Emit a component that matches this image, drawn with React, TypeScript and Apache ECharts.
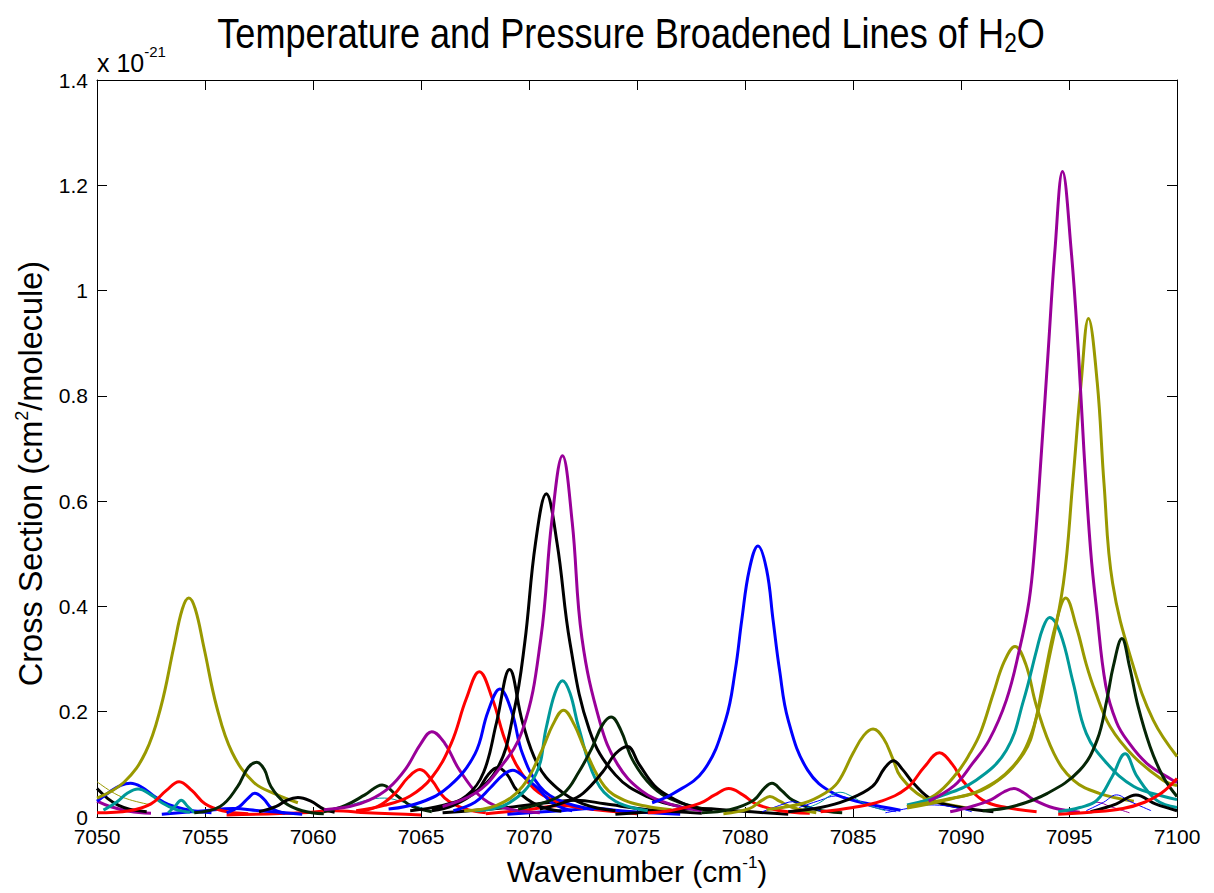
import { useEffect, useRef } from "react";
import * as echarts from "echarts";

// ---- axes ----
const X_MIN = 7050;
const X_MAX = 7100;
const X_STEP = 5;
const Y_MIN = 0;
const Y_MAX = 1.4;
const Y_STEP = 0.2;

const TITLE_TEXT = "{m|Temperature and Pressure Broadened Lines of H}{s|2}{m|O}";
const X_NAME = "{m|Wavenumber (cm}{s|-1}{m|)}";
const Y_NAME = "{m|Cross Section (cm}{s|2}{m|/molecule)}";
const EXPONENT = "{m|x 10}{s|-21}";

// ---- line profiles: [wavenumber, cross section (x1e-21)] ----
const purpleTail7050 = [[7050, 0.03], [7050.6, 0.02], [7051.5, 0.011], [7052.5, 0.007]];
const blackTail7050 = [[7050, 0.054], [7050.5, 0.035], [7051, 0.022], [7051.5, 0.015], [7052.3, 0.01]];
const oliveThin7050 = [[7050, 0.067], [7050.8, 0.045], [7051.5, 0.033], [7052.5, 0.023]];
const blue7051 = [[7050, 0.03], [7050.6, 0.048], [7051.1, 0.06], [7051.55, 0.064], [7052.1, 0.056], [7052.7, 0.038], [7053.3, 0.024], [7054.3, 0.013], [7055.3, 0.008]];
const teal7052 = [[7050.3, 0.013], [7050.9, 0.028], [7051.4, 0.045], [7051.9, 0.053], [7052.5, 0.042], [7053.0, 0.027], [7053.6, 0.015], [7054.3, 0.009]];
const teal7054 = [[7053.3, 0.008], [7053.6, 0.02], [7053.9, 0.032], [7054.2, 0.02], [7054.5, 0.008]];
const red7054 = [[7050, 0.008], [7051.5, 0.012], [7052.5, 0.025], [7053.2, 0.05], [7053.8, 0.067], [7054.4, 0.05], [7055, 0.025], [7055.8, 0.012], [7057, 0.006]];
const olive7054 = [[7050, 0.036], [7051.25, 0.066], [7052.25, 0.123], [7052.95, 0.208], [7053.55, 0.322], [7053.95, 0.395], [7054.25, 0.416], [7054.55, 0.395], [7054.95, 0.322], [7055.55, 0.208], [7056.25, 0.123], [7057.25, 0.066], [7058.3, 0.043], [7059.3, 0.027]];
const blueLow7056 = [[7053, 0.005], [7055, 0.012], [7056.3, 0.016], [7057.5, 0.012], [7059.5, 0.005]];
const dkg7057 = [[7054.5, 0.008], [7055.7, 0.02], [7056.5, 0.057], [7057.0, 0.094], [7057.4, 0.104], [7057.75, 0.09], [7058.05, 0.058], [7058.7, 0.027], [7059.5, 0.012], [7060.5, 0.006]];
const blue7057 = [[7056, 0.008], [7056.6, 0.02], [7057.0, 0.036], [7057.3, 0.045], [7057.7, 0.035], [7058.1, 0.016], [7058.7, 0.007]];
const black7059 = [[7057.5, 0.01], [7058.3, 0.02], [7058.8, 0.032], [7059.3, 0.037], [7059.9, 0.03], [7060.5, 0.015], [7061, 0.009]];
const redLow7061 = [[7056, 0.004], [7059.5, 0.008], [7061, 0.012], [7062.5, 0.008], [7065, 0.004]];
const tealThin7063 = [[7060.5, 0.012], [7061.5, 0.02], [7062.5, 0.032], [7063.3, 0.036], [7064.2, 0.028], [7065.2, 0.015]];
const dkg7063 = [[7060.5, 0.01], [7061.5, 0.022], [7062.4, 0.042], [7063.2, 0.061], [7063.9, 0.04], [7064.6, 0.02], [7065.5, 0.01]];
const purple7065 = [[7060.5, 0.014], [7061.7, 0.02], [7062.6, 0.032], [7063.5, 0.055], [7064.3, 0.092], [7065, 0.14], [7065.5, 0.162], [7066.1, 0.14], [7066.8, 0.088], [7067.9, 0.034], [7069, 0.016], [7070.5, 0.008]];
const red7065 = [[7062, 0.01], [7063, 0.02], [7063.8, 0.045], [7064.4, 0.075], [7064.95, 0.09], [7065.5, 0.07], [7066.1, 0.036], [7067, 0.016], [7068, 0.008]];
const red7067 = [[7062, 0.012], [7063.3, 0.022], [7064.5, 0.04], [7065.5, 0.075], [7066.4, 0.14], [7067.1, 0.225], [7067.7, 0.276], [7068.3, 0.225], [7069, 0.135], [7070, 0.064], [7071, 0.034], [7072.5, 0.016]];
const blue7068 = [[7063.5, 0.015], [7065, 0.028], [7066.3, 0.058], [7067.5, 0.12], [7068.1, 0.2], [7068.65, 0.243], [7069.2, 0.2], [7069.7, 0.12], [7070.5, 0.058], [7071.5, 0.03], [7073, 0.014]];
const black7069 = [[7064.5, 0.012], [7066, 0.022], [7067.1, 0.04], [7067.9, 0.085], [7068.5, 0.18], [7069.1, 0.28], [7069.7, 0.18], [7070.4, 0.1], [7071.3, 0.055], [7072.5, 0.025], [7074, 0.012]];
const black7068 = [[7065.5, 0.012], [7066.5, 0.022], [7067.6, 0.05], [7068.1, 0.08], [7068.55, 0.094], [7069.0, 0.08], [7069.45, 0.05], [7070.4, 0.022], [7071.5, 0.011]];
const blue7069 = [[7066.5, 0.012], [7067.5, 0.028], [7068.2, 0.055], [7068.8, 0.08], [7069.25, 0.089], [7069.8, 0.075], [7070.4, 0.055], [7071.1, 0.026], [7072, 0.012]];
const redLow7071 = [[7068, 0.006], [7070, 0.014], [7071.5, 0.022], [7073, 0.014], [7075, 0.006]];
const blackLow7072 = [[7066, 0.008], [7069, 0.018], [7071, 0.028], [7072.2, 0.032], [7073.5, 0.025], [7075.5, 0.014], [7078, 0.007]];
const blueLow7073 = [[7069, 0.005], [7071.5, 0.012], [7073, 0.016], [7074.5, 0.011], [7077, 0.005]];
const black7070 = [[7065.5, 0.016], [7067, 0.035], [7068.5, 0.09], [7069.3, 0.2], [7069.8, 0.33], [7070.3, 0.52], [7070.8, 0.614], [7071.3, 0.52], [7071.9, 0.33], [7072.8, 0.165], [7074, 0.08], [7075.5, 0.038], [7077, 0.02]];
const purple7071 = [[7066, 0.02], [7067.5, 0.045], [7068.5, 0.085], [7069.7, 0.165], [7070.55, 0.34], [7071.05, 0.56], [7071.55, 0.686], [7072.0, 0.56], [7072.45, 0.34], [7073.3, 0.178], [7074.1, 0.1], [7075.2, 0.05], [7076.5, 0.025], [7078, 0.012]];
const teal7071 = [[7067.5, 0.012], [7069, 0.025], [7070.3, 0.08], [7070.8, 0.17], [7071.2, 0.235], [7071.55, 0.259], [7071.9, 0.235], [7072.3, 0.17], [7073.1, 0.07], [7074, 0.03], [7075.5, 0.012]];
const olive7071 = [[7067, 0.012], [7068.5, 0.022], [7069.7, 0.058], [7070.6, 0.127], [7071.1, 0.175], [7071.6, 0.203], [7072.1, 0.175], [7072.6, 0.127], [7073.5, 0.058], [7074.4, 0.032], [7075.5, 0.02], [7076.6, 0.014]];
const dkg7073 = [[7069.5, 0.015], [7070.5, 0.025], [7071.6, 0.045], [7072.3, 0.085], [7072.9, 0.13], [7073.4, 0.175], [7073.8, 0.19], [7074.25, 0.165], [7074.8, 0.108], [7075.7, 0.058], [7076.7, 0.032], [7078, 0.016]];
const black7074 = [[7070.5, 0.015], [7071.8, 0.03], [7072.5, 0.045], [7073.4, 0.085], [7074.0, 0.12], [7074.55, 0.134], [7075.1, 0.1], [7075.8, 0.06], [7076.5, 0.039], [7077.5, 0.02], [7078.5, 0.012]];
const blackLow7078 = [[7074, 0.005], [7076.5, 0.012], [7078, 0.016], [7079.5, 0.012], [7082, 0.005]];
const red7079 = [[7075.5, 0.008], [7076.5, 0.012], [7077.9, 0.026], [7078.6, 0.042], [7079.25, 0.054], [7079.9, 0.042], [7080.5, 0.025], [7081.5, 0.013], [7083, 0.007]];
const blue7080 = [[7075.7, 0.027], [7076.7, 0.045], [7078.1, 0.089], [7079.1, 0.184], [7079.55, 0.279], [7079.85, 0.374], [7080.2, 0.47], [7080.6, 0.515], [7081.0, 0.47], [7081.3, 0.374], [7081.6, 0.279], [7082.0, 0.184], [7082.9, 0.089], [7084.1, 0.045], [7085.6, 0.026], [7087.2, 0.013]];
const dkg7081 = [[7078, 0.008], [7079.3, 0.014], [7080.4, 0.032], [7080.9, 0.055], [7081.25, 0.064], [7081.7, 0.05], [7082.2, 0.032], [7083.2, 0.015], [7084.5, 0.008]];
const olive7081 = [[7079, 0.006], [7080.2, 0.016], [7080.8, 0.032], [7081.15, 0.039], [7081.6, 0.03], [7082.2, 0.018], [7083.3, 0.008]];
const blueThin7082 = [[7080.8, 0.01], [7081.6, 0.022], [7082.2, 0.029], [7082.8, 0.022], [7083.6, 0.01]];
const blueThin7084 = [[7082.5, 0.018], [7083.5, 0.032], [7084.2, 0.04], [7085, 0.033], [7085.8, 0.02], [7087, 0.01]];
const tealThin7084 = [[7082.5, 0.012], [7083.4, 0.026], [7084.0, 0.042], [7084.4, 0.047], [7084.9, 0.04], [7085.6, 0.024], [7086.5, 0.012]];
const olive7086 = [[7081, 0.014], [7082.7, 0.026], [7083.7, 0.045], [7084.3, 0.066], [7085.0, 0.121], [7085.5, 0.155], [7085.93, 0.167], [7086.4, 0.15], [7086.85, 0.11], [7087.2, 0.077], [7088.3, 0.036], [7089.4, 0.024], [7090.5, 0.016]];
const black7087 = [[7082, 0.01], [7083.5, 0.018], [7084.7, 0.032], [7085.9, 0.058], [7086.45, 0.092], [7086.87, 0.107], [7087.3, 0.09], [7087.8, 0.064], [7088.7, 0.032], [7090, 0.018], [7091.5, 0.01]];
const blueThin7089 = [[7086.5, 0.008], [7087.5, 0.016], [7088.5, 0.023], [7089.5, 0.02], [7090.5, 0.01]];
const red7089 = [[7083.5, 0.01], [7085, 0.018], [7086.3, 0.03], [7087.5, 0.055], [7088.3, 0.095], [7089.0, 0.122], [7089.6, 0.1], [7090.1, 0.068], [7091.0, 0.032], [7092.1, 0.018], [7093.5, 0.01]];
const purple7092 = [[7089.5, 0.01], [7090.5, 0.02], [7091.4, 0.033], [7092.0, 0.048], [7092.45, 0.054], [7092.9, 0.046], [7093.4, 0.032], [7094.3, 0.017], [7095.5, 0.009]];
const olive7092 = [[7087.5, 0.02], [7088.8, 0.042], [7089.8, 0.083], [7090.4, 0.12], [7090.9, 0.16], [7091.5, 0.235], [7092.0, 0.295], [7092.5, 0.324], [7093.0, 0.29], [7093.5, 0.21], [7094.3, 0.121], [7095.2, 0.07], [7096.4, 0.045], [7098, 0.03]];
const teal7094 = [[7087.5, 0.023], [7089.0, 0.039], [7090.7, 0.07], [7092.1, 0.127], [7092.9, 0.222], [7093.5, 0.317], [7093.8, 0.36], [7094.1, 0.379], [7094.6, 0.349], [7095.2, 0.254], [7095.8, 0.159], [7096.75, 0.102], [7098, 0.058], [7099.4, 0.039], [7100, 0.033]];
const olive7094 = [[7087.5, 0.02], [7089.5, 0.035], [7090.9, 0.051], [7092.4, 0.096], [7093.27, 0.159], [7093.8, 0.254], [7094.35, 0.36], [7094.85, 0.416], [7095.35, 0.36], [7095.8, 0.29], [7096.2, 0.24], [7096.9, 0.172], [7098, 0.115], [7099.35, 0.07], [7100, 0.06]];
const olive7096 = [[7087.5, 0.017], [7089.3, 0.032], [7091.3, 0.058], [7092.9, 0.121], [7093.5, 0.19], [7094.0, 0.286], [7094.74, 0.444], [7095.17, 0.634], [7095.56, 0.824], [7095.9, 0.947], [7096.31, 0.824], [7096.62, 0.634], [7097.02, 0.444], [7097.98, 0.286], [7098.9, 0.184], [7100, 0.115]];
const purple7094 = [[7088.5, 0.03], [7089.7, 0.06], [7090.5, 0.1], [7091.3, 0.146], [7092.1, 0.222], [7092.7, 0.317], [7093.15, 0.41], [7093.4, 0.507], [7093.73, 0.697], [7094.04, 0.887], [7094.35, 1.077], [7094.7, 1.226], [7095.1, 1.077], [7095.43, 0.887], [7095.69, 0.697], [7096.0, 0.507], [7096.28, 0.393], [7096.7, 0.25], [7097.2, 0.18], [7097.7, 0.145], [7098.6, 0.102], [7099.8, 0.07], [7100, 0.066]];
const purpleThin7096 = [[7095, 0.01], [7095.8, 0.022], [7096.3, 0.028], [7096.9, 0.02], [7097.8, 0.008]];
const blueThin7097 = [[7095.8, 0.012], [7096.6, 0.028], [7097.2, 0.042], [7097.8, 0.03], [7098.8, 0.012]];
const dkg7097 = [[7091, 0.012], [7092.4, 0.02], [7094, 0.045], [7095.5, 0.089], [7096.3, 0.146], [7096.75, 0.222], [7097.05, 0.286], [7097.45, 0.339], [7097.8, 0.286], [7098.2, 0.21], [7098.75, 0.134], [7099.35, 0.077], [7100, 0.039]];
const teal7097 = [[7094.5, 0.01], [7095.5, 0.018], [7096.3, 0.032], [7097.0, 0.077], [7097.6, 0.12], [7098.15, 0.077], [7099.05, 0.032], [7100, 0.018]];
const black7098 = [[7096, 0.01], [7097.2, 0.025], [7098.1, 0.042], [7099, 0.025], [7100, 0.012]];
const redEdge7100 = [[7094.5, 0.005], [7096, 0.009], [7097.5, 0.016], [7098.5, 0.028], [7099.3, 0.046], [7100, 0.073]];

// ---- styles ----
const BLUE = "#0000ff";
const RED = "#ff0000";
const TEAL = "#009999";
const OLIVE = "#999900";
const PURPLE = "#990099";
const BLACK = "#000000";
const DKGREEN = "#062606";
const THICK = 3;
const THIN = 1;
const FONT = "'Liberation Sans', Arial, Helvetica, sans-serif";

const CURVES = [
  { data: redLow7061, color: RED, width: THICK },
  { data: blueLow7056, color: BLUE, width: THICK },
  { data: redLow7071, color: RED, width: THICK },
  { data: blueLow7073, color: BLUE, width: THICK },
  { data: blackLow7078, color: BLACK, width: THICK },
  { data: blackLow7072, color: BLACK, width: THICK },
  { data: purpleTail7050, color: PURPLE, width: THICK },
  { data: blackTail7050, color: BLACK, width: THICK },
  { data: oliveThin7050, color: OLIVE, width: THIN },
  { data: blue7051, color: BLUE, width: THICK },
  { data: teal7052, color: TEAL, width: THICK },
  { data: teal7054, color: TEAL, width: THICK },
  { data: red7054, color: RED, width: THICK },
  { data: olive7054, color: OLIVE, width: THICK },
  { data: dkg7057, color: DKGREEN, width: THICK },
  { data: blue7057, color: BLUE, width: THICK },
  { data: black7059, color: BLACK, width: THICK },
  { data: tealThin7063, color: TEAL, width: THIN },
  { data: dkg7063, color: DKGREEN, width: THICK },
  { data: purple7065, color: PURPLE, width: THICK },
  { data: red7065, color: RED, width: THICK },
  { data: red7067, color: RED, width: THICK },
  { data: blue7068, color: BLUE, width: THICK },
  { data: black7069, color: BLACK, width: THICK },
  { data: black7068, color: BLACK, width: THICK },
  { data: blue7069, color: BLUE, width: THICK },
  { data: black7070, color: BLACK, width: THICK },
  { data: purple7071, color: PURPLE, width: THICK },
  { data: teal7071, color: TEAL, width: THICK },
  { data: olive7071, color: OLIVE, width: THICK },
  { data: dkg7073, color: DKGREEN, width: THICK },
  { data: black7074, color: BLACK, width: THICK },
  { data: red7079, color: RED, width: THICK },
  { data: blue7080, color: BLUE, width: THICK },
  { data: dkg7081, color: DKGREEN, width: THICK },
  { data: olive7081, color: OLIVE, width: THICK },
  { data: blueThin7082, color: BLUE, width: THIN },
  { data: blueThin7084, color: BLUE, width: THIN },
  { data: tealThin7084, color: TEAL, width: THIN },
  { data: olive7086, color: OLIVE, width: THICK },
  { data: black7087, color: BLACK, width: THICK },
  { data: blueThin7089, color: BLUE, width: THIN },
  { data: red7089, color: RED, width: THICK },
  { data: purple7092, color: PURPLE, width: THICK },
  { data: olive7092, color: OLIVE, width: THICK },
  { data: teal7094, color: TEAL, width: THICK },
  { data: olive7094, color: OLIVE, width: THICK },
  { data: olive7096, color: OLIVE, width: THICK },
  { data: purple7094, color: PURPLE, width: THICK },
  { data: purpleThin7096, color: PURPLE, width: THIN },
  { data: blueThin7097, color: BLUE, width: THIN },
  { data: dkg7097, color: DKGREEN, width: THICK },
  { data: teal7097, color: TEAL, width: THICK },
  { data: black7098, color: BLACK, width: THICK },
  { data: redEdge7100, color: RED, width: THICK },
];

export default function App() {
  const ref = useRef<HTMLDivElement>(null);

  useEffect(() => {
    if (!ref.current) return;
    const chart = echarts.init(ref.current, undefined, { renderer: "svg" });

    const axisLine = { show: true, onZero: false, lineStyle: { color: "#000", width: 1 } };
    const tick = { show: true, inside: true, length: 10, lineStyle: { color: "#000", width: 1 } };
    const tickLabel = { color: "#000", fontSize: 21, fontFamily: FONT };

    chart.setOption({
      animation: false,
      backgroundColor: "#ffffff",
      grid: { left: 97, right: 37, top: 80, bottom: 76, containLabel: false },
      xAxis: [
        {
          type: "value",
          position: "bottom",
          min: X_MIN,
          max: X_MAX,
          interval: X_STEP,
          axisLine,
          axisTick: tick,
          axisLabel: { ...tickLabel, margin: 10, lineHeight: 18, formatter: (v: number) => String(v) },
          splitLine: { show: false },
          name: X_NAME,
          nameLocation: "middle",
          nameGap: 37,
          nameTextStyle: {
            color: "#000",
            rich: {
              m: { fontSize: 30, lineHeight: 34, fontFamily: FONT, color: "#000" },
              s: { fontSize: 17, lineHeight: 12, verticalAlign: "top", fontFamily: FONT, color: "#000" },
            },
          },
        },
        {
          type: "value",
          position: "top",
          min: X_MIN,
          max: X_MAX,
          interval: X_STEP,
          axisLine,
          axisTick: tick,
          axisLabel: { show: false },
          splitLine: { show: false },
        },
      ],
      yAxis: [
        {
          type: "value",
          position: "left",
          min: Y_MIN,
          max: Y_MAX,
          interval: Y_STEP,
          axisLine,
          axisTick: tick,
          axisLabel: {
            ...tickLabel,
            margin: 9,
            lineHeight: 14,
            formatter: (v: number) => String(Math.round(v * 10) / 10),
          },
          splitLine: { show: false },
          name: Y_NAME,
          nameLocation: "middle",
          nameGap: 46,
          nameTextStyle: {
            color: "#000",
            padding: [0, 50, 0, 0],
            rich: {
              m: { fontSize: 32.5, lineHeight: 36, fontFamily: FONT, color: "#000" },
              s: { fontSize: 18, lineHeight: 12, verticalAlign: "top", fontFamily: FONT, color: "#000" },
            },
          },
        },
        {
          type: "value",
          position: "right",
          min: Y_MIN,
          max: Y_MAX,
          interval: Y_STEP,
          axisLine,
          axisTick: tick,
          axisLabel: { show: false },
          splitLine: { show: false },
        },
      ],
      graphic: [
        {
          type: "text",
          x: 631,
          y: 10,
          scaleX: 0.84,
          silent: true,
          style: {
            text: TITLE_TEXT,
            align: "center",
            verticalAlign: "top",
            fill: "#000",
            rich: {
              m: { fontSize: 43, lineHeight: 46, fontFamily: FONT, fill: "#000" },
              s: { fontSize: 27, lineHeight: 16, verticalAlign: "bottom", fontFamily: FONT, fill: "#000" },
            },
          },
        },
        {
          type: "text",
          x: 97,
          y: 44,
          silent: true,
          style: {
            text: EXPONENT,
            align: "left",
            verticalAlign: "top",
            fill: "#000",
            rich: {
              m: { fontSize: 25, lineHeight: 38, fontFamily: FONT, fill: "#000" },
              s: { fontSize: 15, lineHeight: 12, verticalAlign: "top", fontFamily: FONT, fill: "#000" },
            },
          },
        },
      ],
      series: CURVES.map((c) => ({
        type: "line",
        xAxisIndex: 0,
        yAxisIndex: 0,
        data: c.data,
        showSymbol: false,
        symbol: "none",
        smooth: 0.4,
        silent: true,
        clip: true,
        lineStyle: { color: c.color, width: c.width },
        emphasis: { disabled: true },
      })),
    });

    return () => chart.dispose();
  }, []);

  return (
    <div
      ref={ref}
      style={{ position: "absolute", left: 0, top: 0, width: 1214, height: 893, background: "#fff" }}
    />
  );
}
